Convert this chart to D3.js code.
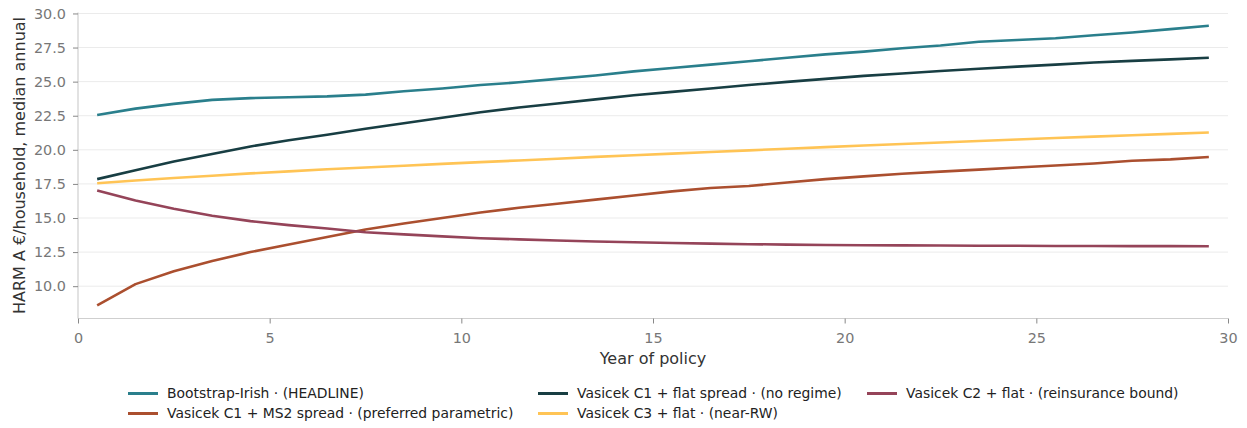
<!DOCTYPE html>
<meta charset="utf-8">
<head>
  <title>HARM A by year of policy</title>
</head>

<style>
body {
  margin: 0;
  background: #fff;
  font-family: "DejaVu Sans", sans-serif;
}
.tick text { fill: #777; font-size: 14.4px; }
.grid line { stroke: #ebebeb; }
.legend text { font-size: 13.9px; fill: #222; }
</style>

<body>
  <svg width="1247" height="428"></svg>

  <script src="https://cdnjs.cloudflare.com/ajax/libs/d3/7.8.5/d3.min.js"></script>

  <script>
var years = d3.range(30).map(function(i) { return i + 0.5 });

var bootstrapIrish = [22.55, 23.02, 23.37, 23.66, 23.79, 23.86, 23.92, 24.05, 24.3, 24.5,
  24.75, 24.95, 25.2, 25.45, 25.75, 26.0, 26.25, 26.5, 26.75, 27.0,
  27.2, 27.45, 27.65, 27.93, 28.05, 28.18, 28.4, 28.6, 28.85, 29.1];
var vasicekFlat = [17.85, 18.5, 19.15, 19.7, 20.25, 20.7, 21.1, 21.55, 21.95, 22.35,
  22.75, 23.1, 23.4, 23.7, 24.0, 24.25, 24.5, 24.75, 24.98, 25.2,
  25.42, 25.6, 25.78, 25.95, 26.1, 26.25, 26.4, 26.52, 26.63, 26.75];
var vasicekC2 = [17.02, 16.28, 15.68, 15.17, 14.77, 14.48, 14.23, 13.95, 13.8, 13.65,
  13.52, 13.43, 13.35, 13.28, 13.22, 13.17, 13.12, 13.08, 13.05, 13.02,
  13.0, 12.99, 12.98, 12.97, 12.96, 12.95, 12.95, 12.94, 12.94, 12.93];
var vasicekMS2 = [8.6, 10.15, 11.1, 11.85, 12.5, 13.05, 13.6, 14.15, 14.6, 15.0,
  15.4, 15.75, 16.05, 16.35, 16.65, 16.95, 17.2, 17.35, 17.6, 17.85,
  18.05, 18.25, 18.4, 18.55, 18.7, 18.85, 19.0, 19.2, 19.3, 19.47];
var vasicekC3 = [17.55, 17.75, 17.93, 18.1, 18.27, 18.42, 18.57, 18.7, 18.83, 18.97,
  19.1, 19.22, 19.35, 19.48, 19.6, 19.72, 19.84, 19.96, 20.08, 20.2,
  20.32, 20.43, 20.54, 20.65, 20.76, 20.87, 20.97, 21.07, 21.17, 21.27];

var yTicks = [10, 12.5, 15, 17.5, 20, 22.5, 25, 27.5, 30];
var xTicks = [0, 5, 10, 15, 20, 25, 30];

// draw order and legend order (legend fills column by column, two rows)
var series = [
  { name: 'Bootstrap-Irish · (HEADLINE)', values: bootstrapIrish, color: '#2a7f8c' },
  { name: 'Vasicek C1 + MS2 spread · (preferred parametric)', values: vasicekMS2, color: '#ab4f2f' },
  { name: 'Vasicek C1 + flat spread · (no regime)', values: vasicekFlat, color: '#183e43' },
  { name: 'Vasicek C3 + flat · (near-RW)', values: vasicekC3, color: '#ffc455' },
  { name: 'Vasicek C2 + flat · (reinsurance bound)', values: vasicekC2, color: '#954459' }
];

var svg = d3.select('svg');

var x = d3.scaleLinear().domain([0, 30]).range([78, 1228]);
var y = d3.scaleLinear().domain([7.63, 30.07]).range([318.5, 12.5]);

// grid
svg.append('g')
  .attr('class', 'grid')
  .selectAll('line')
  .data(yTicks)
  .enter().append('line')
  .attr('x1', x(0))
  .attr('x2', x(30))
  .attr('y1', function(d) { return y(d) })
  .attr('y2', function(d) { return y(d) });

// axes
var xAxis = svg.append('g')
  .attr('transform', 'translate(0,' + y.range()[0] + ')')
  .call(d3.axisBottom(x).tickValues(xTicks).tickSize(5).tickPadding(9).tickFormat(d3.format('d')));

var yAxis = svg.append('g')
  .attr('transform', 'translate(' + x(0) + ',0)')
  .call(d3.axisLeft(y).tickValues(yTicks).tickSize(5).tickPadding(7).tickFormat(d3.format('.1f')));

[xAxis, yAxis].forEach(function(a) {
  a.select('.domain').attr('stroke', '#cfcfcf').attr('stroke-width', 1.2);
  a.selectAll('.tick line').attr('stroke', '#888');
  a.selectAll('.tick text').attr('font-family', '"DejaVu Sans", sans-serif');
});
xAxis.select('.domain').attr('d', 'M' + x(0) + ',0H' + x(30));
yAxis.select('.domain').attr('d', 'M0,' + y.range()[0] + 'V' + y.range()[1]);

// lines
var line = d3.line()
  .x(function(d, i) { return x(years[i]) })
  .y(function(d) { return y(d) });

svg.append('g')
  .selectAll('path')
  .data(series)
  .enter().append('path')
  .attr('fill', 'none')
  .attr('stroke', function(d) { return d.color })
  .attr('stroke-width', 2.6)
  .attr('stroke-linejoin', 'round')
  .attr('d', function(d) { return line(d.values) });

// axis labels
svg.append('text')
  .attr('x', (x(0) + x(30)) / 2)
  .attr('y', 364)
  .attr('text-anchor', 'middle')
  .attr('font-size', 16)
  .attr('fill', '#333')
  .text('Year of policy');

svg.append('text')
  .attr('transform', 'translate(25,' + (y.range()[0] + y.range()[1]) / 2 + ') rotate(-90)')
  .attr('text-anchor', 'middle')
  .attr('font-size', 16)
  .attr('fill', '#333')
  .text('HARM A €/household, median annual');

// legend
var colX = [128, 538, 867];
var rowY = [393.5, 413.5];

var legend = svg.append('g')
  .attr('class', 'legend')
  .selectAll('g')
  .data(series)
  .enter().append('g')
  .attr('transform', function(d, i) {
    return 'translate(' + colX[Math.floor(i / 2)] + ',' + rowY[i % 2] + ')';
  });

legend.append('line')
  .attr('x1', 0)
  .attr('x2', 30)
  .attr('stroke', function(d) { return d.color })
  .attr('stroke-width', 3);

legend.append('text')
  .attr('x', 39)
  .attr('dy', '0.35em')
  .text(function(d) { return d.name });
  </script>
</body>
</html>
